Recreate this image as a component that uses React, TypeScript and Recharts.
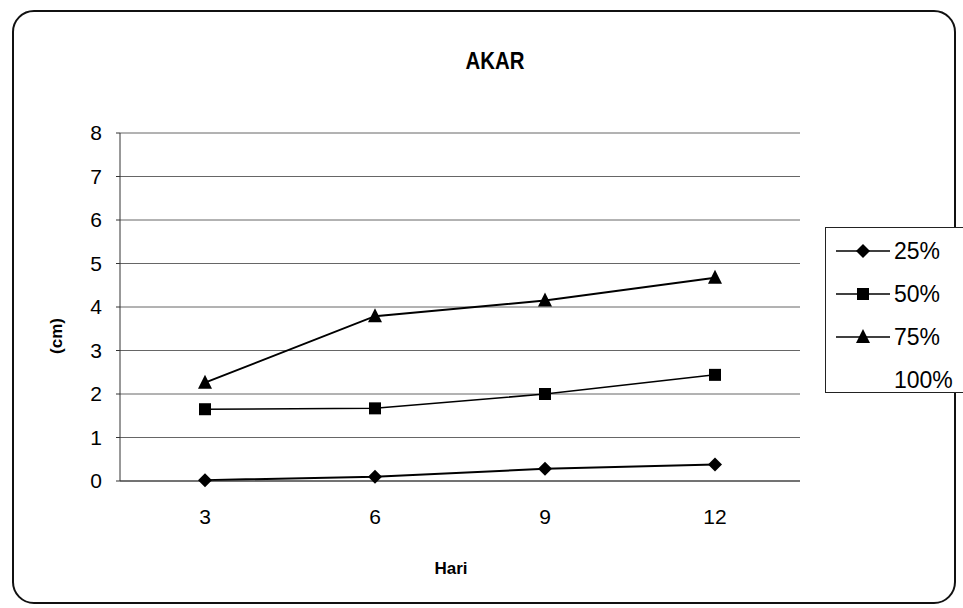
import React from 'react';
import { LineChart, Line, XAxis, YAxis, CartesianGrid } from 'recharts';

const days = ['3', '6', '9', '12'];
const s25 = [0.02, 0.1, 0.28, 0.38];
const s50 = [1.65, 1.67, 2.0, 2.44];
const s75 = [2.26, 3.79, 4.15, 4.67];
const yTicks = [0, 1, 2, 3, 4, 5, 6, 7, 8];
const seriesNames = ['25%', '50%', '75%', '100%'];

const data = days.map((d, i) => ({ day: d, a: s25[i], b: s50[i], c: s75[i], d: null }));

const font = '"Liberation Sans", Arial, sans-serif';

const Diamond = ({ cx, cy }: any) => (
    <polygon points={`${cx},${cy - 7} ${cx + 7},${cy} ${cx},${cy + 7} ${cx - 7},${cy}`} fill="#000" />
);
const Square = ({ cx, cy }: any) => <rect x={cx - 6} y={cy - 6} width={12} height={12} fill="#000" />;
const Triangle = ({ cx, cy }: any) => (
    <polygon points={`${cx},${cy - 8} ${cx + 7},${cy + 6} ${cx - 7},${cy + 6}`} fill="#000" />
);

const markers = [Diamond, Square, Triangle, null];

const Legend = () => (
    <div
        style={{
            position: 'absolute',
            left: 825,
            top: 227,
            width: 150,
            height: 166,
            border: '1.5px solid #222',
            background: '#fff',
            fontFamily: font,
            fontSize: 23,
            boxSizing: 'border-box',
        }}
    >
        {seriesNames.map((name, i) => {
            const M = markers[i];
            return (
                <div key={name} style={{ position: 'absolute', left: 8, top: 10 + i * 43, height: 26, display: 'flex', alignItems: 'center' }}>
                    <svg width={58} height={26}>
                        {M && <line x1={2} y1={13} x2={56} y2={13} stroke="#000" strokeWidth={1.5} />}
                        {M && <M cx={29} cy={13} />}
                    </svg>
                    <span style={{ marginLeft: 2 }}>{name}</span>
                </div>
            );
        })}
    </div>
);

const App = () => {
    return (
        <div style={{ position: 'absolute', left: 0, top: 0, width: 963, height: 608, background: '#fff', overflow: 'hidden' }}>
            <div
                style={{
                    position: 'absolute',
                    left: 12,
                    top: 10,
                    width: 944,
                    height: 594,
                    border: '2px solid #111',
                    borderRadius: 22,
                    boxSizing: 'border-box',
                }}
            />
            <div
                style={{
                    position: 'absolute',
                    left: 0,
                    width: 990,
                    top: 47,
                    textAlign: 'center',
                    fontFamily: font,
                    fontWeight: 'bold',
                    fontSize: 24,
                    transform: 'scaleX(0.85)',
                }}
            >
                AKAR
            </div>
            <div
                style={{
                    position: 'absolute',
                    left: 0,
                    width: 902,
                    top: 559,
                    textAlign: 'center',
                    fontFamily: font,
                    fontWeight: 'bold',
                    fontSize: 17,
                }}
            >
                Hari
            </div>
            <div
                style={{
                    position: 'absolute',
                    left: 57,
                    top: 336,
                    transform: 'translate(-50%, -50%) rotate(-90deg)',
                    fontFamily: font,
                    fontWeight: 'bold',
                    fontSize: 17,
                    whiteSpace: 'nowrap',
                }}
            >
                (cm)
            </div>
            <div style={{ position: 'absolute', left: 0, top: 0 }}>
                <LineChart
                    width={963}
                    height={608}
                    data={data}
                    margin={{ top: 133, right: 163, left: 80, bottom: 87 }}
                >
                    <CartesianGrid vertical={false} stroke="#666" strokeWidth={1} />
                    <XAxis
                        dataKey="day"
                        padding={{ left: 85, right: 85 }}
                        height={40}
                        stroke="#333"
                        tickLine={false}
                        tick={{ fill: '#000', fontSize: 21, fontFamily: font }}
                        tickMargin={22}
                    />
                    <YAxis
                        domain={[0, 8]}
                        ticks={yTicks}
                        width={40}
                        stroke="#333"
                        tickSize={4}
                        tick={{ fill: '#000', fontSize: 21, fontFamily: font }}
                        tickMargin={14}
                        interval={0}
                    />
                    <Line dataKey="a" stroke="#000" strokeWidth={2} dot={<Diamond />} isAnimationActive={false} />
                    <Line dataKey="b" stroke="#000" strokeWidth={1.5} dot={<Square />} isAnimationActive={false} />
                    <Line dataKey="c" stroke="#000" strokeWidth={2} dot={<Triangle />} isAnimationActive={false} />
                    <Line dataKey="d" stroke="#000" strokeWidth={2} dot={false} isAnimationActive={false} />
                </LineChart>
            </div>
            <Legend />
        </div>
    );
};

export default App;
